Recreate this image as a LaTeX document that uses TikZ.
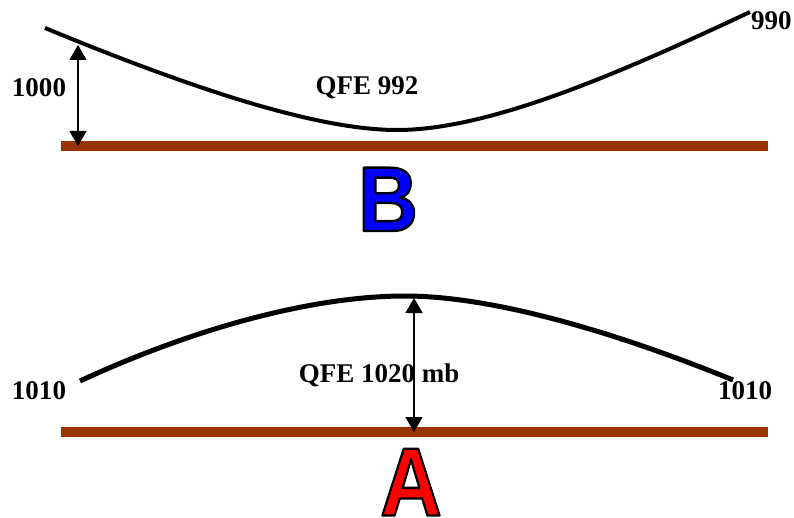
\documentclass[tikz,border=0pt]{standalone}
\usepackage{fontspec}
\usepackage{graphicx}
\setmainfont{Liberation Serif}
\newfontfamily\letterfont{Liberation Sans}
\usetikzlibrary{arrows.meta}
\definecolor{ground}{HTML}{993300}
\definecolor{bblue}{HTML}{0000FF}
\definecolor{ared}{HTML}{FF0000}
\newcommand\outlinedletter[3]{%
  \textcolor{#1}{\special{pdf:literal direct 0 G #2 w 1 j 2 Tr}#3\special{pdf:literal direct 0 Tr}}}
\tikzset{
  groundbar/.style={fill=ground, draw=none},
  isobar/.style={line width=4pt, line cap=butt},
  dimarrow/.style={line width=1.3pt, {Triangle[width=17pt,length=15pt]}-{Triangle[width=17pt,length=15pt]}},
  lab/.style={font=\fontsize{27}{30}\selectfont\bfseries, inner sep=0pt},
  bigletter/.style={inner sep=0pt, anchor=base}
}
\begin{document}
\begin{tikzpicture}[x=1pt,y=-1pt]
\useasboundingbox (0,0) rectangle (794,518);
% ground bars
\fill[groundbar] (61,141) rectangle (768,151);
\fill[groundbar] (61,427) rectangle (768,437);
% top curve (B)
\coordinate (t0) at (45,28);
\coordinate (tmin) at (397,130);
\coordinate (t1) at (750,12);
\draw[isobar] (t0) .. controls (200,92) and (320,130) .. (tmin)
  .. controls (490,130) and (620,73) .. (t1);
% bottom curve (A)
\coordinate (b0) at (80,381);
\coordinate (bmax) at (405,296);
\coordinate (b1) at (733,380);
\draw[isobar, line width=5pt] (b0) .. controls (190,330) and (310,296) .. (bmax)
  .. controls (500,296) and (630,338) .. (b1);
% arrows
\coordinate (ta) at (78,45);
\coordinate (tb) at (78,146);
\draw[dimarrow] (ta) -- (tb);
\coordinate (ba) at (414,298);
\coordinate (bb) at (414,432);
\draw[dimarrow] (ba) -- (bb);
% labels
\node[lab] (l1000) at (39,88) {1000};
\node[lab] (lqfe992) at (367,88) {QFE 992};
\node[lab, anchor=west] (l990) at (751,21) {990};
\node[lab] (lqfe1020) at (379,375) {QFE 1020 mb};
\node[lab] (l1010a) at (39,391) {1010};
\node[lab] (l1010b) at (745,391) {1010};
% big letters
\node[bigletter] (B) at (388,231) {\scalebox{0.9}[1]{\outlinedletter{bblue}{2.4}{\letterfont\fontsize{92}{92}\selectfont\bfseries B}}};
\node[bigletter] (A) at (411,515.5) {\scalebox{0.88}[1]{\outlinedletter{ared}{2.4}{\letterfont\fontsize{97}{97}\selectfont\bfseries A}}};
\end{tikzpicture}
\end{document}
